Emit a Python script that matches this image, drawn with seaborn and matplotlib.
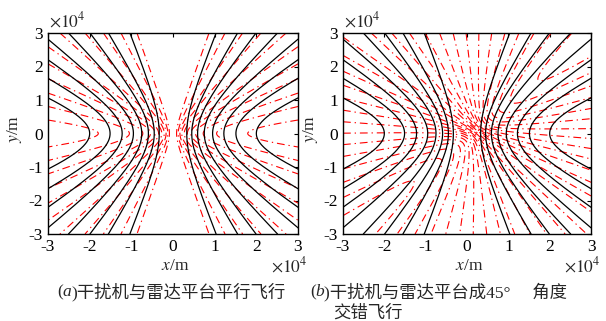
import numpy as np
import pandas as pd
import matplotlib
matplotlib.use("Agg")
import matplotlib.pyplot as plt
import seaborn as sns

sns.set_theme(style="white")
plt.rcParams["font.family"] = ["Liberation Serif", "Noto Sans CJK SC", "DejaVu Sans"]
plt.rcParams["mathtext.fontset"] = "stix"

# ---- data (units: x10^4 m) ----
# black iso-Doppler hyperbolas of the radar: vertex on x axis and semi-minor axis
black_vertex = [0.33, 0.45, 0.59, 0.75, 0.95, 1.22, 1.51, 2.00]
black_b = [1.01, 0.91, 0.93, 0.94, 0.94, 0.98, 0.96, 0.95]
# red iso-Doppler contours of the jammer (cone angles in degrees), per panel
red_cone_deg_a = [9.5, 16, 22.5, 29, 35, 41, 48, 55, 61, 67.5, 74]
red_cone_deg_b = [8, 14, 20, 26, 32, 38, 44, 50, 56, 62, 68, 74, 80, 86]
jammer_height = 0.30
jammer_nadir = [(0.0, 0.0), (0.22, 0.08)]
jammer_heading_deg = [0.0, 45.0]
tick_vals = [-3, -2, -1, 0, 1, 2, 3]
tick_labels = ["-3", "-2", "-1", "0", "1", "2", "3"]
caption_a = ["(", "a", ")干扰机与雷达平台平行飞行"]
caption_b = ["(", "b", ")干扰机与雷达平台成45°\u3000 角度"]
caption_b2 = "交错飞行"

# black curve table
yy = np.linspace(-3, 3, 241)
rows = []
for k, (a, b) in enumerate(zip(black_vertex, black_b)):
    xr = a * np.sqrt(1 + (yy / b) ** 2)
    for side in (-1, 1):
        rows.append(pd.DataFrame({"x": side * xr, "y": yy, "curve": f"{k}_{side}"}))
black_df = pd.concat(rows, ignore_index=True)


def levels_from(cones):
    c = [np.cos(np.deg2rad(p)) for p in cones]
    return sorted(c + [-v for v in c])


red_levels = [levels_from(red_cone_deg_a), levels_from(red_cone_deg_b)]

gx = np.linspace(-3, 3, 500)
GX, GY = np.meshgrid(gx, gx)


def dcos(X, Y, px, py, h, th):
    t = np.deg2rad(th)
    dx, dy = X - px, Y - py
    return (dx * np.cos(t) + dy * np.sin(t)) / np.sqrt(dx ** 2 + dy ** 2 + h ** 2)


W, H = 606, 321
fig = plt.figure(figsize=(W / 100, H / 100), dpi=100)
lefts = [48, 343]
rights = [298, 591]
FS = 12.5
for i in range(2):
    ax = fig.add_axes([lefts[i] / W, 1 - 234 / H, (rights[i] - lefts[i]) / W, (234 - 33) / H])
    F = dcos(GX, GY, jammer_nadir[i][0], jammer_nadir[i][1], jammer_height,
             jammer_heading_deg[i])
    cs = ax.contour(GX, GY, F, levels=red_levels[i], colors="#ff0000", linewidths=0.8)
    cs.set_linestyle((0, (7, 3.5, 1.2, 3.5)))
    sns.lineplot(data=black_df, x="x", y="y", units="curve", estimator=None,
                 sort=False, color="black", linewidth=0.9, ax=ax, legend=False)
    ax.set_xlim(-3, 3)
    ax.set_ylim(-3, 3)
    ax.set_xticks(tick_vals)
    ax.set_xticklabels(tick_labels)
    ax.set_yticks(tick_vals)
    ax.set_yticklabels(tick_labels)
    ax.tick_params(direction="in", length=3, width=0.8, top=True, right=True,
                   labelsize=FS, colors="black")
    ax.tick_params(axis="x", pad=3.5)
    ax.tick_params(axis="y", pad=3.5)
    for s in ax.spines.values():
        s.set_color("black")
        s.set_linewidth(1.0)
    ax.set_xlabel("")
    ax.set_ylabel("")
    cx = (lefts[i] + rights[i]) / 2
    fig.text((cx + 2) / W, 1 - 266 / H, "$x$/m", ha="center", va="center", fontsize=FS)
    fig.text((lefts[i] - 33) / W, 1 - 129 / H, "$y$/m", ha="center", va="center",
             fontsize=FS, rotation=90)
    fig.text((lefts[i] + 1) / W, 1 - 21 / H, r"$\times10^4$", ha="left", va="center",
             fontsize=FS)
    fig.text((rights[i] + 10) / W, 1 - 266 / H, r"$\times10^4$", ha="right", va="center",
             fontsize=FS)

renderer = fig.canvas.get_renderer()


def rich(x_px, y_px, parts):
    x = x_px
    for j, txt in enumerate(parts):
        t = fig.text(x / W, 1 - y_px / H, txt, ha="left", va="center", fontsize=12.5,
                     fontstyle="italic" if j == 1 else "normal")
        x += t.get_window_extent(renderer).width


rich(57, 292, caption_a)
rich(310, 292, caption_b)
fig.text(333 / W, 1 - 313 / H, caption_b2, ha="left", va="center", fontsize=12.5)

fig.savefig("out.png", dpi=100, facecolor="white")
